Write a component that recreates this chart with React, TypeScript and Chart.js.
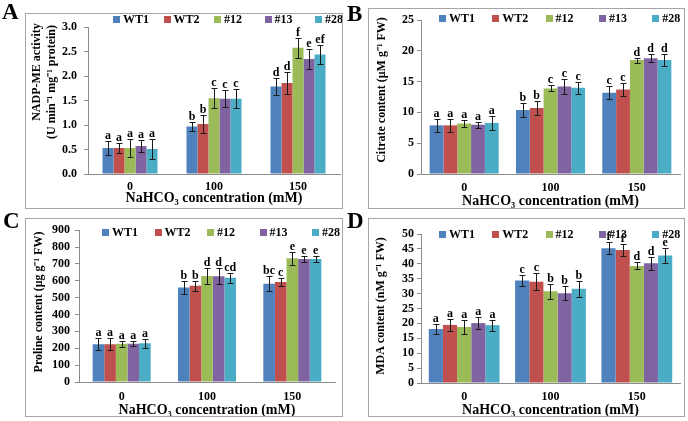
import React, { useEffect, useRef } from 'react';
import { Chart, registerables } from 'chart.js';

Chart.register(...registerables);

const FONT = "'Liberation Serif', 'Times New Roman', serif";
const AXIS_COLOR = '#8c8c8c';

// ---------- shared categories / series ----------
const concentrations = ['0', '100', '150'];
const lineNames = ['WT1', 'WT2', '#12', '#13', '#28'];
const lineColors = ['#4F81BD', '#C0504D', '#9BBB59', '#8064A2', '#4BACC6'];
const xAxisTitle = 'NaHCO₃ concentration (mM)';

// ---------- A: NADP-ME activity ----------
const nadpTitle = ['NADP-ME activity', '(U min⁻¹ mg⁻¹ protein)'];
const nadpTicks = [0, 3, 0.5];
const nadpMeans = [
  [0.53, 0.97, 1.79],
  [0.53, 1.02, 1.86],
  [0.53, 1.55, 2.58],
  [0.57, 1.54, 2.35],
  [0.51, 1.54, 2.44],
];
const nadpErrors = [
  [0.14, 0.1, 0.18],
  [0.11, 0.18, 0.23],
  [0.19, 0.2, 0.2],
  [0.13, 0.18, 0.2],
  [0.21, 0.2, 0.19],
];
const nadpLetters = [
  ['a', 'b', 'd'],
  ['a', 'b', 'd'],
  ['a', 'c', 'f'],
  ['a', 'c', 'e'],
  ['a', 'c', 'ef'],
];

// ---------- B: Citrate content ----------
const citrateTitle = ['Citrate content (μM g⁻¹ FW)'];
const citrateTicks = [0, 25, 5];
const citrateMeans = [
  [7.9, 10.4, 13.2],
  [7.9, 10.7, 13.7],
  [8.2, 13.9, 18.5],
  [8.0, 14.2, 18.8],
  [8.3, 14.0, 18.5],
];
const citrateErrors = [
  [1.1, 1.1, 1.1],
  [1.1, 1.2, 1.1],
  [0.5, 0.5, 0.4],
  [0.5, 1.2, 0.6],
  [1.1, 1.0, 1.0],
];
const citrateLetters = [
  ['a', 'b', 'c'],
  ['a', 'b', 'c'],
  ['a', 'c', 'd'],
  ['a', 'c', 'd'],
  ['a', 'c', 'd'],
];

// ---------- C: Proline content ----------
const prolineTitle = ['Proline content (μg g⁻¹ FW)'];
const prolineTicks = [0, 900, 100];
const prolineMeans = [
  [224, 560, 583],
  [224, 570, 593],
  [227, 628, 733],
  [227, 627, 729],
  [230, 618, 729],
];
const prolineErrors = [
  [35, 39, 44],
  [35, 29, 25],
  [17, 48, 38],
  [16, 46, 18],
  [26, 29, 20],
];
const prolineLetters = [
  ['a', 'b', 'bc'],
  ['a', 'b', 'c'],
  ['a', 'd', 'e'],
  ['a', 'd', 'e'],
  ['a', 'cd', 'e'],
];

// ---------- D: MDA content ----------
const mdaTitle = ['MDA content (nM g⁻¹ FW)'];
const mdaTicks = [0, 50, 5];
const mdaMeans = [
  [18.1, 34.4, 45.2],
  [19.5, 34.0, 44.6],
  [18.8, 30.8, 39.3],
  [20.1, 30.1, 40.2],
  [19.4, 31.6, 42.8],
];
const mdaErrors = [
  [1.7, 1.9, 2.0],
  [1.9, 2.8, 1.9],
  [2.4, 2.5, 1.2],
  [2.0, 2.3, 2.2],
  [1.8, 2.6, 2.6],
];
const mdaLetters = [
  ['a', 'c', 'f'],
  ['a', 'c', 'f'],
  ['a', 'b', 'd'],
  ['a', 'b', 'd'],
  ['a', 'b', 'e'],
];

// ---------- layout (positions only) ----------
type PanelCfg = {
  key: string;
  yTitle: string[];
  yTicks: number[];
  decimals: number;
  means: number[][];
  errors: number[][];
  letters: string[][];
  box: { x: number; y: number; w: number; h: number };
  area: { l: number; r: number; t: number; b: number };
  tickOff: number;
  titleOff: number;
  yTickPad: number;
  yTitlePos: number[][];
  cat: number;
  legend: { x: number; y: number; slot: number };
  label: { x: number; y: number };
};

const panels: PanelCfg[] = [
  {
    key: 'A', yTitle: nadpTitle, yTicks: nadpTicks, decimals: 1,
    means: nadpMeans, errors: nadpErrors, letters: nadpLetters,
    box: { x: 25, y: 13, w: 317, h: 196 },
    area: { l: 63, r: 315, t: 12, b: 161 },
    tickOff: 13, titleOff: 24, yTickPad: 7,
    yTitlePos: [[12, 59], [27, 69]],
    cat: 0.655,
    legend: { x: 88, y: 6, slot: 50.5 },
    label: { x: 2, y: 0 },
  },
  {
    key: 'B', yTitle: citrateTitle, yTicks: citrateTicks, decimals: 0,
    means: citrateMeans, errors: citrateErrors, letters: citrateLetters,
    box: { x: 368, y: 8, w: 316, h: 201 },
    area: { l: 53, r: 312, t: 12, b: 166 },
    tickOff: 14, titleOff: 27, yTickPad: 3,
    yTitlePos: [[13.5, 82]],
    cat: 0.8,
    legend: { x: 71, y: 10, slot: 53.3 },
    label: { x: 347, y: 2 },
  },
  {
    key: 'C', yTitle: prolineTitle, yTicks: prolineTicks, decimals: 0,
    means: prolineMeans, errors: prolineErrors, letters: prolineLetters,
    box: { x: 25, y: 218, w: 317, h: 199 },
    area: { l: 54, r: 310, t: 8, b: 164 },
    tickOff: 15, titleOff: 28, yTickPad: 5,
    yTitlePos: [[14, 84]],
    cat: 0.68,
    legend: { x: 77, y: 14, slot: 52.5 },
    label: { x: 3, y: 209 },
  },
  {
    key: 'D', yTitle: mdaTitle, yTicks: mdaTicks, decimals: 0,
    means: mdaMeans, errors: mdaErrors, letters: mdaLetters,
    box: { x: 368, y: 218, w: 316, h: 199 },
    area: { l: 53, r: 312, t: 16, b: 165 },
    tickOff: 14, titleOff: 27, yTickPad: 3,
    yTitlePos: [[13, 88]],
    cat: 0.82,
    legend: { x: 71, y: 16, slot: 53.3 },
    label: { x: 347, y: 209 },
  },
];

function makeDecor(cfg: PanelCfg) {
  return {
    id: 'decor' + cfg.key,
    afterDatasetsDraw(chart: any) {
      const ctx: CanvasRenderingContext2D = chart.ctx;
      const yScale = chart.scales.y;
      ctx.save();
      // error bars + significance letters
      chart.data.datasets.forEach((_ds: any, i: number) => {
        const meta = chart.getDatasetMeta(i);
        meta.data.forEach((bar: any, j: number) => {
          const v = cfg.means[i][j];
          const e = cfg.errors[i][j];
          const x = Math.round(bar.x) + 0.5;
          const yt = Math.round(yScale.getPixelForValue(v + e)) + 0.5;
          const yb = Math.round(yScale.getPixelForValue(v - e)) + 0.5;
          ctx.strokeStyle = '#1a1a1a';
          ctx.lineWidth = 1;
          ctx.beginPath();
          ctx.moveTo(x, yt);
          ctx.lineTo(x, yb);
          ctx.moveTo(x - 3, yt);
          ctx.lineTo(x + 3, yt);
          ctx.moveTo(x - 3, yb);
          ctx.lineTo(x + 3, yb);
          ctx.stroke();
          ctx.fillStyle = '#000';
          ctx.font = `bold 12px ${FONT}`;
          ctx.textAlign = 'center';
          ctx.textBaseline = 'alphabetic';
          ctx.fillText(cfg.letters[i][j], bar.x, yt - 3);
        });
      });
      // legend
      ctx.font = `bold 12px ${FONT}`;
      ctx.textAlign = 'left';
      ctx.textBaseline = 'middle';
      lineNames.forEach((name, i) => {
        const sx = cfg.legend.x + i * cfg.legend.slot;
        ctx.fillStyle = lineColors[i];
        ctx.fillRect(Math.round(sx), Math.round(cfg.legend.y - 3.5), 7, 7);
        ctx.fillStyle = '#000';
        ctx.fillText(name, sx + 10, cfg.legend.y + 0.5);
      });
      // y-axis title
      ctx.font = `bold 12px ${FONT}`;
      ctx.textAlign = 'center';
      ctx.textBaseline = 'middle';
      ctx.fillStyle = '#000';
      cfg.yTitle.forEach((t, k) => {
        const [tx, ty] = cfg.yTitlePos[k];
        ctx.save();
        ctx.translate(tx, ty);
        ctx.rotate(-Math.PI / 2);
        ctx.fillText(t, 0, 0);
        ctx.restore();
      });
      ctx.restore();
    },
  };
}

function Panel({ cfg }: { cfg: PanelCfg }) {
  const ref = useRef<HTMLCanvasElement>(null);
  useEffect(() => {
    const canvas = ref.current;
    if (!canvas) return;
    const xAxisHeight = cfg.titleOff + 7;
    const chart = new Chart(canvas, {
      type: 'bar',
      data: {
        labels: concentrations,
        datasets: lineNames.map((name, i) => ({
          label: name,
          data: cfg.means[i],
          backgroundColor: lineColors[i],
          borderWidth: 0,
          barPercentage: 1,
          categoryPercentage: cfg.cat,
        })),
      },
      options: {
        responsive: false,
        animation: false,
        devicePixelRatio: 1,
        layout: {
          padding: {
            left: 0,
            top: cfg.area.t,
            right: cfg.box.w - cfg.area.r,
            bottom: Math.max(0, cfg.box.h - cfg.area.b - xAxisHeight),
          },
        },
        plugins: {
          legend: { display: false },
          tooltip: { enabled: false },
        },
        scales: {
          x: {
            type: 'category',
            grid: { display: false, drawTicks: false },
            border: { display: true, color: AXIS_COLOR },
            ticks: {
              color: '#000',
              font: { family: FONT, size: 12, weight: 'bold' },
              padding: cfg.tickOff - 7.2,
            },
            title: {
              display: true,
              text: xAxisTitle,
              color: '#000',
              font: { family: FONT, size: 14, weight: 'bold', lineHeight: 1 },
              padding: { top: 0, bottom: 0 },
            },
            afterFit: (s: any) => {
              s.height = xAxisHeight;
            },
          },
          y: {
            min: cfg.yTicks[0],
            max: cfg.yTicks[1],
            ticks: {
              stepSize: cfg.yTicks[2],
              autoSkip: false,
              maxTicksLimit: 20,
              color: '#000',
              font: { family: FONT, size: 12, weight: 'bold' },
              padding: cfg.yTickPad,
              callback: (v: any) => Number(v).toFixed(cfg.decimals),
            },
            grid: {
              drawOnChartArea: false,
              drawTicks: true,
              tickLength: 4,
              color: AXIS_COLOR,
            },
            border: { display: true, color: AXIS_COLOR },
            afterFit: (s: any) => {
              s.width = cfg.area.l;
            },
          },
        },
      },
      plugins: [makeDecor(cfg)],
    } as any);
    return () => chart.destroy();
  }, [cfg]);

  return (
    <>
      <canvas
        ref={ref}
        width={cfg.box.w}
        height={cfg.box.h}
        style={{ position: 'absolute', left: cfg.box.x, top: cfg.box.y, width: cfg.box.w, height: cfg.box.h }}
      />
      <div
        style={{
          position: 'absolute',
          left: cfg.box.x,
          top: cfg.box.y,
          width: cfg.box.w + 1,
          height: cfg.box.h,
          border: '1px solid #a6a6a6',
          boxSizing: 'border-box',
          pointerEvents: 'none',
        }}
      />
      <div
        style={{
          position: 'absolute',
          left: cfg.label.x,
          top: cfg.label.y,
          fontFamily: FONT,
          fontWeight: 'bold',
          fontSize: 23,
          lineHeight: '23px',
          color: '#000',
        }}
      >
        {cfg.key}
      </div>
    </>
  );
}

export default function App() {
  return (
    <div
      style={{
        position: 'absolute',
        left: 0,
        top: 0,
        width: 688,
        height: 421,
        background: '#fff',
        overflow: 'hidden',
      }}
    >
      {panels.map((p) => (
        <Panel key={p.key} cfg={p} />
      ))}
    </div>
  );
}
